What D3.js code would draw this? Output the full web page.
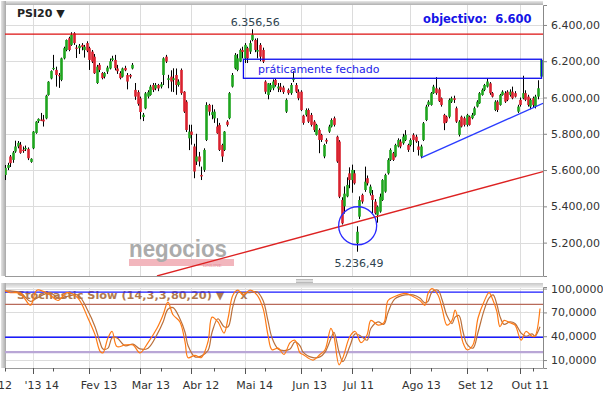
<!DOCTYPE html>
<html><head><meta charset="utf-8">
<script src="https://cdn.jsdelivr.net/npm/d3@7"></script>
<style>body{margin:0;background:#fff;} svg{display:block;font-family:"DejaVu Sans",Verdana,sans-serif;} text{white-space:pre;}</style>
</head><body><svg id="c" width="603" height="400"></svg>
<script>
// ---------- DATA ----------
const openV=[5573,5612,5675,5656,5702,5730,5740,5712,5715,5717,5645,5720,5805,5870,5878,5878,5885,6014,6105,6160,
6152,6124,6097,6216,6262,6327,6290,6354,6275,6272,6290,6262,6300,6272,6253,6225,6080,6180,6135,6115,
6143,6160,6207,6207,6160,6135,6115,6163,6124,6124,6160,6042,6030,5995,5892,5940,6005,6014,6069,6050,
6069,6060,6124,6225,6097,6115,6097,6124,6069,6152,6032,5977,5775,5812,5730,5647,5675,5573,5601,5766,
5959,5904,5885,5840,5849,5738,5711,5867,5886,6060,6161,6152,6198,6262,6216,6272,6253,6317,6317,6253,
6290,6262,6088,6014,6042,6051,6097,6050,6060,6055,5922,6042,6024,6097,6069,6032,6032,5900,5904,5931,
5904,5867,5794,5821,5794,5675,5766,5812,5840,5886,5784,5757,5435,5400,5455,5582,5545,5582,5197,5343,
5463,5490,5555,5472,5463,5426,5353,5371,5435,5481,5582,5656,5693,5675,5730,5757,5748,5766,5738,5738,
5794,5784,5730,5675,5766,5876,5959,5959,6024,6051,6045,5996,5904,5894,5894,5977,5996,5941,5794,5894,
5886,5849,5894,5886,5904,5950,5968,6014,6042,6060,6078,6024,5931,5977,5959,6014,6024,6032,6014,6032,
6024,5922,5987,5996,6024,6005,5950,5996,5950,6005,6115];
const highV=[5628,5640,5683,5705,5762,5760,5755,5730,5735,5725,5665,5815,5870,5885,5915,5904,6015,6090,6150,6235,
6170,6135,6220,6280,6320,6335,6360,6360,6290,6295,6300,6290,6310,6280,6262,6240,6180,6190,6140,6140,
6175,6215,6230,6235,6180,6145,6165,6175,6135,6130,6190,6080,6040,6005,5915,6030,6040,6070,6080,6080,
6075,6085,6222,6235,6125,6150,6161,6160,6100,6160,6035,5985,5850,5850,5745,5800,5700,5619,5720,5974,
5965,5960,5935,5886,5860,5745,5815,5875,6030,6135,6245,6240,6270,6280,6300,6280,6315,6376,6325,6327,
6300,6275,6095,6080,6080,6100,6105,6080,6080,6065,5995,6050,6080,6145,6080,6045,6040,5905,5940,5940,
5915,5875,5855,5830,5800,5745,5775,5850,5885,5895,5790,5765,5450,5510,5560,5615,5630,5600,5290,5455,
5470,5619,5570,5520,5490,5440,5405,5470,5550,5580,5665,5720,5700,5745,5775,5770,5800,5820,5745,5775,
5803,5795,5760,5740,5865,5960,5985,6030,6070,6112,6055,6000,5910,5900,5995,6005,6010,5950,5875,5900,
5895,5910,5900,5915,5950,5985,6030,6050,6075,6105,6085,6030,5985,5985,6020,6040,6035,6040,6045,6060,
6035,5960,6000,6120,6040,6015,5995,6005,6015,6095,6210];
const lowV=[5545,5600,5617,5640,5695,5720,5690,5695,5705,5655,5640,5715,5800,5860,5870,5840,5880,6010,6100,6150,
6060,6053,6090,6210,6255,6255,6285,6290,6218,6240,6260,6220,6250,6152,6190,6130,6075,6140,6100,6105,
6130,6155,6200,6150,6130,6100,6110,6145,6045,6105,6155,5987,5955,5880,5870,5935,5995,6010,6030,6040,
6035,6050,6069,6190,6051,6032,6030,6015,6060,6015,5915,5810,5710,5740,5555,5628,5620,5545,5590,5760,
5900,5880,5860,5800,5705,5645,5705,5840,5880,6055,6155,6145,6195,6216,6190,6190,6240,6310,6250,6216,
6200,6190,6020,5990,6030,6040,6060,6030,6030,6020,5915,6015,6015,6085,6025,5985,5925,5850,5895,5860,
5840,5810,5790,5693,5755,5665,5745,5805,5835,5840,5640,5445,5300,5360,5450,5500,5475,5520,5150,5330,
5415,5480,5515,5460,5362,5355,5310,5365,5430,5475,5575,5650,5650,5670,5725,5720,5740,5760,5700,5730,
5700,5750,5680,5665,5760,5870,5950,5955,6020,6015,5975,5950,5820,5860,5885,5970,5970,5860,5785,5835,
5840,5840,5845,5880,5900,5945,5965,6010,6035,6055,6015,6000,5925,5920,5955,6010,5970,5980,6005,5990,
6000,5915,5950,5990,5980,5950,5935,5945,5940,5990,6110];
const closeV=[5612,5628,5638,5697,5730,5750,5695,5705,5722,5665,5662,5812,5867,5882,5875,5868,6010,6087,6146,6163,
6124,6120,6216,6272,6317,6262,6345,6300,6270,6285,6278,6280,6258,6207,6198,6134,6170,6152,6107,6135,
6165,6200,6216,6162,6145,6107,6160,6150,6088,6115,6180,6005,5965,5920,5905,6023,6030,6060,6042,6069,
6050,6073,6216,6198,6106,6088,6106,6069,6088,6024,5922,5821,5812,5794,5592,5675,5647,5565,5711,5959,
5922,5919,5922,5803,5711,5675,5812,5849,6024,6124,6235,6216,6262,6251,6290,6216,6300,6345,6262,6262,
6225,6198,6032,6078,6069,6088,6069,6060,6042,6030,5987,6024,6069,6106,6032,5996,5931,5860,5931,5867,
5849,5821,5849,5766,5766,5738,5757,5840,5876,5849,5647,5453,5306,5470,5518,5545,5601,5527,5260,5435,
5426,5536,5527,5509,5435,5362,5398,5453,5545,5573,5656,5711,5656,5738,5766,5730,5784,5794,5711,5766,
5766,5757,5711,5730,5858,5950,5977,6024,6060,6024,5980,5959,5858,5867,5987,5996,5987,5867,5867,5840,
5849,5904,5849,5904,5941,5977,6024,6042,6069,6088,6024,6005,5977,5931,6014,6032,5977,5987,6032,5996,
6005,5950,5959,6024,5987,5959,5987,5959,6005,6051,6207];

const priceTicks=[5200,5400,5600,5800,6000,6200,6400];
const stochTicks=[10,40,70,100];
const tickIdx=[-9,11,33,53,73,94,116,136,159,181,202];
const tickLabels=["Dez 12","'13 14","Fev 13","Mar 13","Abr 12","Mai 14","Jun 13","Jul 11","Ago 13","Set 12","Out 11"];
const minorIdx=[0,19,41,61,82,102,124,144,167,189,207];

const stochDay=[0,2,6,10,12.5,17.6,20.8,24.3,28.6,32.5,35.3,37.3,38.4,40.4,42,43.9,47.1,50.2,52.9,56.1,
59.6,62,63.9,65.9,68.6,70.6,71.8,74.5,76.9,79.6,81.2,83.5,85.9,87.5,89.4,91.4,93.3,96.1,98.8,101.2,
103.1,104.7,107.1,109.4,111.8,113.7,115.7,116.9,120.8,123.5,125.5,127.8,129,131,132.5,135.3,137.3,139.6,142,143.5,
146.3,148.6,150.2,152.9,156.9,160,162.7,164.7,165.9,167.5,169.8,171.4,173.3,175.3,176.5,178,179.6,181.2,183.5,185.5,
187.8,189.8,191.4,192.9,194.1,195.7,198,200,202.4,204.3,206.7,207.8,209.8];
const stochK=[98,95,94,79,98,92,85,95,88,63,42,21,19,38,46,27,29,29,19,32,
50,67,83,67,58,33,13,16,13,33,64,58,44,63,92,98,92,98,92,75,
42,23,25,17,32,35,19,17,10,17,23,50,40,4,13,40,46,32,42,60,
54,57,85,90,94,90,85,79,94,100,92,75,54,60,73,57,32,23,29,63,
83,95,85,71,52,60,57,54,35,46,40,40,75];
const stochD=[97,97,95,84,88,95,88,90,92,72,52,32,24,25,38,38,28,30,24,25,
42,58,74,76,62,45,28,14,15,22,45,62,52,52,78,95,95,95,96,85,
60,38,24,22,24,33,28,20,13,14,20,37,45,20,8,28,43,40,35,50,
58,55,70,87,92,92,88,82,84,96,98,86,66,56,64,66,46,30,25,45,
72,88,92,80,65,55,58,56,44,40,43,40,52];
const stochLevels=[{v:95.5,c:"#1a1aff",w:1.4},{v:80,c:"#b86a5a",w:1.2},{v:38.7,c:"#1a1aff",w:1.4},{v:20,c:"#b9a6d6",w:2.2}];

const redLevel=6349;
const redTrend=[{i:59.6,v:5016},{i:211,v:5592}];
const blueTrend=[{i:163.3,v:5668},{i:211,v:5968}];
const boxRange={i0:93.5,i1:211,vTop:6211,vBot:6106};
const circ={i:138.3,v:5293,r:19};
const peak={i:97,v:6376,label:"6.356,56"};
const trough={i:138,v:5150,label:"5.236,49"};

// ---------- LAYOUT ----------
const svg=d3.select("#c");
const L=5,R=543,T=5,B=276, ST=287,SB=368;
const x=d3.scaleLinear().domain([0,210]).range([5,540.5]);
const y=d3.scaleLinear().domain([5016,6510]).range([B,T]);
const ys=d3.scaleLinear().domain([0,102]).range([SB,ST]);
const loc=d3.formatLocale({decimal:",",thousands:".",grouping:[3],currency:["",""]});

const defs=svg.append("defs");
defs.append("clipPath").attr("id","cm").append("rect").attr("x",L).attr("y",T).attr("width",R-L).attr("height",B-T);
defs.append("clipPath").attr("id","cs").append("rect").attr("x",L).attr("y",ST).attr("width",R-L).attr("height",SB-ST);
const gl=defs.append("linearGradient").attr("id","gl").attr("x1",0).attr("x2",1).attr("y1",0).attr("y2",0);
gl.append("stop").attr("offset",0).attr("stop-color","#e4e4e4");
gl.append("stop").attr("offset",1).attr("stop-color","#a8a8a8");
const gt=defs.append("linearGradient").attr("id","gt").attr("x1",0).attr("x2",0).attr("y1",0).attr("y2",1);
gt.append("stop").attr("offset",0).attr("stop-color","#e8e8e8");
gt.append("stop").attr("offset",1).attr("stop-color","#b0b0b0");
const gs=defs.append("linearGradient").attr("id","gs").attr("x1",0).attr("x2",0).attr("y1",0).attr("y2",1);
gs.append("stop").attr("offset",0).attr("stop-color","#c8c8c8");
gs.append("stop").attr("offset",1).attr("stop-color","#f0f0f0");

// grid main
const gm=svg.append("g");
gm.selectAll("line.h").data(priceTicks).join("line").attr("x1",L).attr("x2",R)
  .attr("y1",d=>Math.round(y(d))+0.5).attr("y2",d=>Math.round(y(d))+0.5).attr("stroke","#dcdcdc");
gm.selectAll("line.v").data(tickIdx.filter(d=>d>=0)).join("line").attr("y1",T).attr("y2",B)
  .attr("x1",d=>Math.round(x(d))+0.5).attr("x2",d=>Math.round(x(d))+0.5).attr("stroke","#dcdcdc");
// grid stoch
const gsg=svg.append("g");
gsg.selectAll("line.h").data(stochTicks).join("line").attr("x1",L).attr("x2",R)
  .attr("y1",d=>Math.round(ys(d))+0.5).attr("y2",d=>Math.round(ys(d))+0.5).attr("stroke","#dcdcdc");
gsg.selectAll("line.v").data(tickIdx.filter(d=>d>=0)).join("line").attr("y1",ST).attr("y2",SB)
  .attr("x1",d=>Math.round(x(d))+0.5).attr("x2",d=>Math.round(x(d))+0.5).attr("stroke","#e2e2e2");

// frames
svg.append("rect").attr("x",L).attr("y",1).attr("width",R-L).attr("height",4).attr("fill","url(#gt)");
svg.append("rect").attr("x",1).attr("y",1).attr("width",5).attr("height",B-1).attr("fill","url(#gl)");
svg.append("line").attr("x1",L).attr("x2",R).attr("y1",B+0.5).attr("y2",B+0.5).attr("stroke","#999");
svg.append("rect").attr("x",L).attr("y",283).attr("width",R-L).attr("height",5).attr("fill","url(#gs)");
svg.append("rect").attr("x",1).attr("y",283).attr("width",5).attr("height",SB-283).attr("fill","url(#gl)");
svg.append("line").attr("x1",L).attr("x2",R).attr("y1",SB+0.5).attr("y2",SB+0.5).attr("stroke","#999");
// grip
[279.5,281,282.5].forEach(v=>svg.append("line").attr("x1",296).attr("x2",313).attr("y1",v).attr("y2",v).attr("stroke","#aaa").attr("stroke-width",0.8));

// watermark
const wm=svg.append("g");
wm.append("rect").attr("x",129).attr("y",259).attr("width",105).attr("height",7).attr("fill","#f2b6bd");
wm.append("text").attr("x",129).attr("y",257).attr("textLength",98).attr("lengthAdjust","spacingAndGlyphs")
  .attr("font-family","'Liberation Sans',Arial,sans-serif").attr("font-weight","bold").attr("font-size",24)
  .attr("fill","#ababab").text("negocios");
wm.append("text").attr("x",203).attr("y",266.5).attr("font-size",5).attr("fill","#e58a97")
  .attr("font-family","'Liberation Serif',serif").text("ONLINE");

// titles
svg.append("text").attr("x",17).attr("y",17).attr("font-size",11).attr("font-weight","bold").attr("fill","#222").text("PSI20 \u25BC");
svg.append("text").attr("x",423).attr("y",23).attr("font-size",11.5).attr("font-weight","bold").attr("fill","#1414e6").text("objectivo:  6.600");

// candles
const cg=svg.append("g").attr("clip-path","url(#cm)");
const idx=d3.range(openV.length);
cg.selectAll("line.w").data(idx).join("line")
  .attr("x1",i=>Math.round(x(i))+0.5).attr("x2",i=>Math.round(x(i))+0.5)
  .attr("y1",i=>y(highV[i])).attr("y2",i=>y(lowV[i])).attr("stroke","#000").attr("stroke-width",1);
cg.selectAll("rect.b").data(idx).join("rect")
  .attr("x",i=>Math.round(x(i))+0.5-1.3).attr("width",2.6)
  .attr("y",i=>y(Math.max(openV[i],closeV[i])))
  .attr("height",i=>Math.max(1.2,Math.abs(y(openV[i])-y(closeV[i]))))
  .attr("fill",i=>closeV[i]>=openV[i]?"#1fa51f":"#d9222f");

// annotation lines
const an=svg.append("g").attr("clip-path","url(#cm)");
an.append("line").attr("x1",L).attr("x2",R).attr("y1",y(redLevel)).attr("y2",y(redLevel)).attr("stroke","#dd1111").attr("stroke-width",1.3);
an.append("line").attr("x1",x(redTrend[0].i)).attr("y1",y(redTrend[0].v)).attr("x2",x(redTrend[1].i)).attr("y2",y(redTrend[1].v)).attr("stroke","#dd2222").attr("stroke-width",1.3);
an.append("line").attr("x1",x(blueTrend[0].i)).attr("y1",y(blueTrend[0].v)).attr("x2",x(blueTrend[1].i)).attr("y2",y(blueTrend[1].v)).attr("stroke","#2a3cff").attr("stroke-width",1.4);
an.append("rect").attr("x",x(boxRange.i0)).attr("y",y(boxRange.vTop)).attr("width",x(boxRange.i1)-x(boxRange.i0)-1.5)
  .attr("height",y(boxRange.vBot)-y(boxRange.vTop)).attr("fill","none").attr("stroke","#0a0aee").attr("stroke-width",1.3);
an.append("circle").attr("cx",x(circ.i)).attr("cy",y(circ.v)).attr("r",circ.r).attr("fill","none").attr("stroke","#2a2aff").attr("stroke-width",1.3);
svg.append("text").attr("x",258).attr("y",73).attr("font-size",11).attr("fill","#2323e8").text("práticamente fechado");
svg.append("text").attr("x",x(peak.i)+3).attr("y",y(peak.v)-3).attr("text-anchor","middle").attr("font-size",11).attr("fill","#2e4450").text(peak.label);
svg.append("text").attr("x",x(trough.i)+2).attr("y",y(trough.v)+15).attr("text-anchor","middle").attr("font-size",11).attr("fill","#2e4450").text(trough.label);

// stochastic
svg.append("text").attr("x",17).attr("y",298.5).attr("font-size",11.3).attr("font-weight","bold").attr("fill","#a86c3c").attr("opacity",0.9)
  .text("Stochastic Slow (14,3,3,80,20) \u25BC    x");
const sg=svg.append("g").attr("clip-path","url(#cs)");
stochLevels.forEach(l=>sg.append("line").attr("x1",L).attr("x2",R).attr("y1",ys(l.v)).attr("y2",ys(l.v)).attr("stroke",l.c).attr("stroke-width",l.w));
const kPts=stochDay.map((d,j)=>({d,v:stochK[j]}));
const dPts=stochDay.map((d,j)=>({d,v:stochD[j]}));
const ln=d3.line().x(p=>x(p.d)).y(p=>ys(p.v)).curve(d3.curveCatmullRom.alpha(0.5));
sg.append("path").attr("d",ln(dPts)).attr("fill","none").attr("stroke","#b9703c").attr("stroke-width",1.2);
sg.append("path").attr("d",ln(kPts)).attr("fill","none").attr("stroke","#ff7a14").attr("stroke-width",1.2);

// axes
const ax1=svg.append("g").attr("transform",`translate(${R},0)`)
  .call(d3.axisRight(y).tickValues(priceTicks).tickSize(4).tickSizeOuter(4).tickPadding(4).tickFormat(loc.format(",.2f")));
const ax2=svg.append("g").attr("transform",`translate(${R},0)`)
  .call(d3.axisRight(ys).tickValues(stochTicks).tickSize(4).tickSizeOuter(4).tickPadding(4).tickFormat(loc.format(",.4f")));
[ax1,ax2].forEach(a=>{a.selectAll("path,line").attr("stroke","#888");a.selectAll("text").attr("font-size",11).attr("fill","#333").attr("font-family","'DejaVu Sans',Verdana,sans-serif");});

// x axis
const xa=svg.append("g");
xa.selectAll("line.M").data(tickIdx).join("line").attr("x1",d=>Math.round(x(d))+0.5).attr("x2",d=>Math.round(x(d))+0.5)
  .attr("y1",SB).attr("y2",SB+6).attr("stroke","#555");
xa.selectAll("line.m").data(minorIdx).join("line").attr("x1",d=>Math.round(x(d))+0.5).attr("x2",d=>Math.round(x(d))+0.5)
  .attr("y1",SB).attr("y2",SB+3.5).attr("stroke","#555");
xa.selectAll("text").data(tickIdx).join("text").attr("x",d=>x(d)-8.5).attr("y",389).attr("font-size",11).attr("fill","#333")
  .text((d,j)=>tickLabels[j]);
</script></body></html>
